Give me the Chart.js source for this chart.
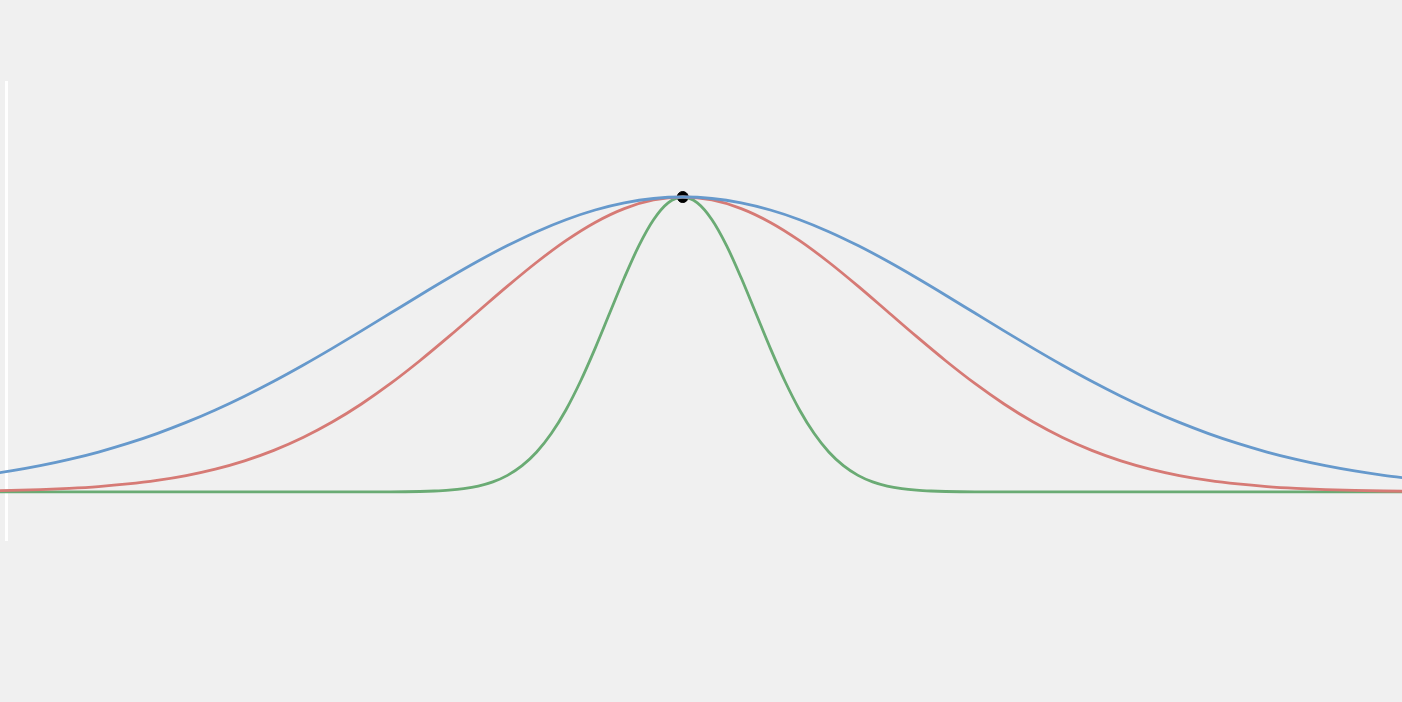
<!DOCTYPE html>
<html>
<head>
<meta charset="utf-8">
<script src="https://cdn.jsdelivr.net/npm/chart.js@4.4.1/dist/chart.umd.min.js"></script>
<style>
  html, body { margin: 0; padding: 0; background: #f0f0f0; }
  #wrap { width: 1402px; height: 702px; }
</style>
</head>
<body>
<div id="wrap"><canvas id="curves"></canvas></div>
<script>
// x positions for the two wide curves
const xWide = [-4.8, -4.6, -4.4, -4.2, -4.0, -3.8, -3.6, -3.4, -3.2, -3.0,
  -2.8, -2.6, -2.4, -2.2, -2.0, -1.8, -1.6, -1.4, -1.2, -1.0,
  -0.8, -0.6, -0.4, -0.2, 0, 0.2, 0.4, 0.6, 0.8, 1.0,
  1.2, 1.4, 1.6, 1.8, 2.0, 2.2, 2.4, 2.6, 2.8, 3.0,
  3.2, 3.4, 3.6, 3.8, 4.0, 4.2, 4.4, 4.6, 4.8, 5.0];

const blueVals = [0.0561, 0.0710, 0.0889, 0.1103, 0.1353, 0.1645, 0.1979, 0.2357, 0.2780, 0.3247,
  0.3753, 0.4296, 0.4868, 0.5461, 0.6065, 0.6670, 0.7261, 0.7827, 0.8353, 0.8825,
  0.9231, 0.9560, 0.9802, 0.9950, 1, 0.9950, 0.9802, 0.9560, 0.9231, 0.8825,
  0.8353, 0.7827, 0.7261, 0.6670, 0.6065, 0.5461, 0.4868, 0.4296, 0.3753, 0.3247,
  0.2780, 0.2357, 0.1979, 0.1645, 0.1353, 0.1103, 0.0889, 0.0710, 0.0561, 0.0439];

const redVals = [0.0032, 0.0050, 0.0079, 0.0122, 0.0183, 0.0271, 0.0392, 0.0556, 0.0773, 0.1054,
  0.1409, 0.1845, 0.2369, 0.2982, 0.3679, 0.4449, 0.5273, 0.6126, 0.6977, 0.7788,
  0.8521, 0.9139, 0.9608, 0.9900, 1, 0.9900, 0.9608, 0.9139, 0.8521, 0.7788,
  0.6977, 0.6126, 0.5273, 0.4449, 0.3679, 0.2982, 0.2369, 0.1845, 0.1409, 0.1054,
  0.0773, 0.0556, 0.0392, 0.0271, 0.0183, 0.0122, 0.0079, 0.0050, 0.0032, 0.0019];

// narrow curve needs finer steps near the top
const xNarrow = [-4.8, -3, -2, -1.8, -1.7, -1.6, -1.5, -1.4, -1.3, -1.2, -1.1, -1.0,
  -0.9, -0.8, -0.7, -0.6, -0.5, -0.4, -0.3, -0.2, -0.1, 0,
  0.1, 0.2, 0.3, 0.4, 0.5, 0.6, 0.7, 0.8, 0.9, 1.0,
  1.1, 1.2, 1.3, 1.4, 1.5, 1.6, 1.7, 1.8, 2, 3, 5];

const greenVals = [0, 0, 0.0003, 0.0015, 0.0031, 0.0060, 0.0111, 0.0198, 0.0340, 0.0561, 0.0889, 0.1353,
  0.1979, 0.2780, 0.3753, 0.4868, 0.6065, 0.7261, 0.8353, 0.9231, 0.9802, 1,
  0.9802, 0.9231, 0.8353, 0.7261, 0.6065, 0.4868, 0.3753, 0.2780, 0.1979, 0.1353,
  0.0889, 0.0561, 0.0340, 0.0198, 0.0111, 0.0060, 0.0031, 0.0015, 0.0003, 0, 0];

const peakX = [0];
const peakY = [1];

function pts(xs, ys) {
  return xs.map((x, i) => ({ x: x, y: ys[i] }));
}

function curve(xs, ys, color) {
  return {
    type: 'line',
    data: pts(xs, ys),
    borderColor: color,
    borderWidth: 2.8,
    pointRadius: 0,
    fill: false,
    cubicInterpolationMode: 'monotone',
    clip: false
  };
}

const ctx = document.getElementById('curves');

new Chart(ctx, {
  type: 'scatter',
  data: {
    datasets: [
      curve(xWide, blueVals, '#6699cc'),
      curve(xWide, redVals, '#d67a75'),
      curve(xNarrow, greenVals, '#6aab74'),
      {
        data: pts(peakX, peakY),
        backgroundColor: '#000',
        borderColor: '#000',
        pointRadius: 5.5,
        clip: false
      }
    ]
  },
  options: {
    responsive: true,
    maintainAspectRatio: false,
    animation: false,
    layout: { padding: { top: 82, bottom: 162, left: 0, right: 0 } },
    plugins: { legend: { display: false }, tooltip: { enabled: false } },
    scales: {
      x: {
        type: 'linear',
        min: -4.63,
        max: 4.88,
        display: false
      },
      y: {
        min: -0.163,
        max: 1.39,
        grid: { display: false, drawTicks: false },
        ticks: { display: false, padding: 0 },
        border: { display: true, color: '#ffffff', width: 3 },
        afterFit: (axis) => { axis.width = 3; }
      }
    }
  }
});
</script>
</body>
</html>
